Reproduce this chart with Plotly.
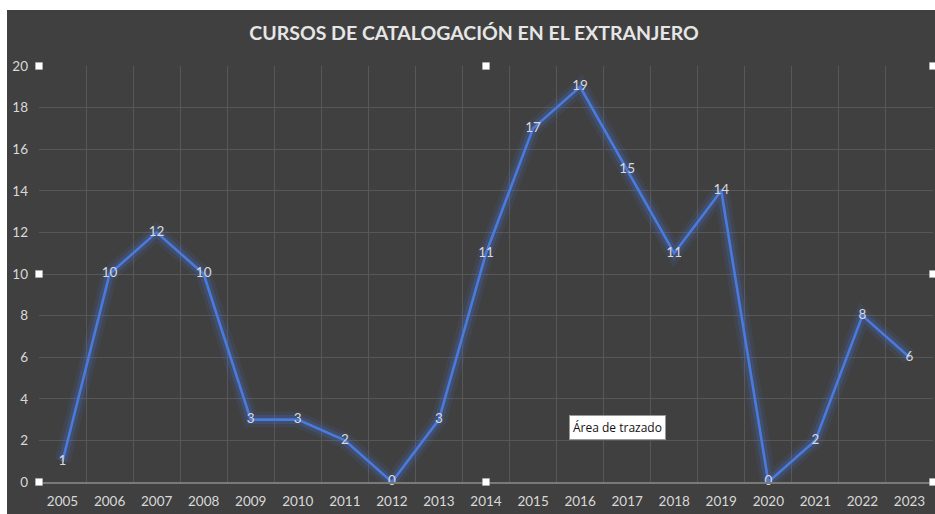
import plotly.graph_objects as go

years = [str(y) for y in range(2005, 2024)]
cursos = [1, 10, 12, 10, 3, 3, 2, 0, 3, 11, 17, 19, 15, 11, 14, 0, 2, 8, 6]
y_ticks = list(range(0, 21, 2))

title_text = "CURSOS DE CATALOGACIÓN EN EL EXTRANJERO"
FONT = "Lato, 'Open Sans', sans-serif"
BG = "#404040"
LBL = "#d9d9d9"
LINE = "#4a7bdc"

fig = go.Figure()
# glow layers
fig.add_trace(go.Scatter(x=years, y=cursos, mode="lines",
                         line=dict(color="rgba(68,114,220,0.10)", width=16),
                         hoverinfo="skip", showlegend=False, cliponaxis=False))
fig.add_trace(go.Scatter(x=years, y=cursos, mode="lines",
                         line=dict(color="rgba(68,114,220,0.22)", width=9),
                         hoverinfo="skip", showlegend=False, cliponaxis=False))
fig.add_trace(go.Scatter(x=years, y=cursos, mode="lines+text",
                         line=dict(color=LINE, width=2.6),
                         text=[str(v) for v in cursos], textposition="middle center",
                         textfont=dict(color=LBL, size=13.5, family=FONT),
                         showlegend=False, cliponaxis=False))

fig.update_layout(
    width=935, height=514,
    paper_bgcolor="white", plot_bgcolor=BG,
    margin=dict(l=39, r=2, t=66, b=32),
    title=dict(text=title_text, x=0.507, xanchor="center", y=0.936, yanchor="middle",
               font=dict(family=FONT, size=19.5, color="#e6e6e6", weight="bold")),
    font=dict(family=FONT, color=LBL, size=13),
    xaxis=dict(type="category", tickson="boundaries", ticks="", showgrid=True,
               gridcolor="#575757", gridwidth=1, showline=True, linecolor="#7a7a7a",
               linewidth=2, tickfont=dict(size=13.5, color=LBL), ticklabelstandoff=6,
               range=[-0.5, 18.5], zeroline=False),
    yaxis=dict(range=[0, 20], tickvals=y_ticks, showgrid=True, gridcolor="#575757",
               gridwidth=1, zeroline=False, showline=False, ticks="",
               tickfont=dict(size=13.5, color=LBL), ticklabelstandoff=10),
)

shapes = [dict(type="rect", xref="paper", yref="paper", x0=-32/894, x1=1 + 2/894,
               y0=-32/416, y1=1 + 56/416, fillcolor=BG, line=dict(width=0), layer="below")]
# selection handles
for hx in (0, 0.5, 1):
    for hy in (0, 0.5, 1):
        if hx == 0.5 and hy == 0.5:
            continue
        shapes.append(dict(type="rect", xref="paper", yref="paper",
                           x0=hx - 3.5/894, x1=hx + 3.5/894, y0=hy - 3.5/416, y1=hy + 3.5/416,
                           fillcolor="white", line=dict(color="#bbbbbb", width=0.5), layer="above"))
fig.update_layout(shapes=shapes)

fig.add_annotation(text="Área de trazado", xref="paper", yref="paper",
                   x=(617 - 39)/894, y=(482 - 427)/416, xanchor="center", yanchor="middle",
                   showarrow=False,
                   font=dict(family="'Open Sans', sans-serif", size=12, color="#111111"),
                   bgcolor="white", bordercolor="#999999", borderwidth=1, borderpad=3)

fig.write_html("out.html", config={"displayModeBar": False},
               post_script="document.body.style.margin='0';document.body.style.overflow='hidden';")
